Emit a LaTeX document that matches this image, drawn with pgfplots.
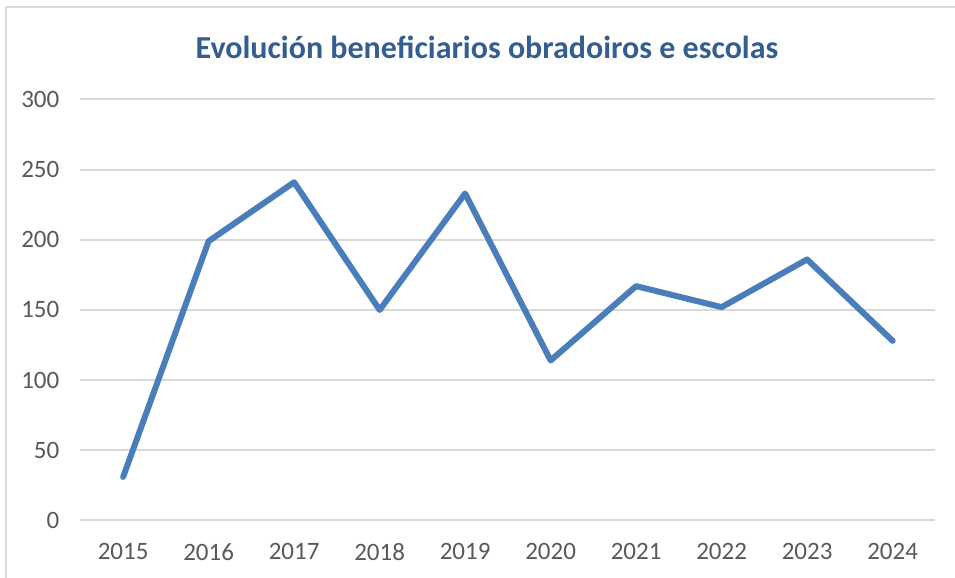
\documentclass[border=0pt]{standalone}
\usepackage{fontspec}
\setmainfont{Carlito}
\usepackage{pgfplots}
\pgfplotsset{compat=1.18}
\definecolor{lineblue}{RGB}{74,126,187}
\definecolor{titleblue}{RGB}{52,94,145}
\definecolor{gridgray}{RGB}{217,217,217}
\definecolor{labelgray}{RGB}{89,89,89}
\begin{document}
\begin{tikzpicture}[x=0.5pt,y=0.5pt]
\useasboundingbox (0,0) rectangle (955,578);
% chart frame (only left and top edges fall inside the picture)
\draw[color=gridgray, line width=1pt] (6,0) -- (6,571) -- (955,571);
\node[font=\fontsize{16}{19}\selectfont\bfseries, text=titleblue] at (487,531) {Evolución beneficiarios obradoiros e escolas};
\begin{axis}[
    at={(94,41)}, anchor=south west,
    scale only axis, width=427.5pt, height=210.5pt,
    xmin=-0.5, xmax=9.5, ymin=0, ymax=300,
    xtick=data,
    xticklabels={2015,2016,2017,2018,2019,2020,2021,2022,2023,2024},
    ytick={0,50,100,150,200,250,300},
    axis line style={draw=none},
    major tick length=0pt,
    ymajorgrids, grid style={gridgray, line width=1pt},
    tick label style={font=\fontsize{12.5}{15}\selectfont, text=labelgray},
    /pgf/number format/assume math mode=true,
    yticklabel style={xshift=-7pt},
    xticklabel style={yshift=-8pt},
    clip=false,
]
\addplot[color=lineblue, line width=3pt, line cap=round, line join=round] coordinates {
(0,31)(1,199)(2,241)(3,150)(4,233)(5,114)(6,167)(7,152)(8,186)(9,128)
};
\end{axis}
\end{tikzpicture}
\end{document}
